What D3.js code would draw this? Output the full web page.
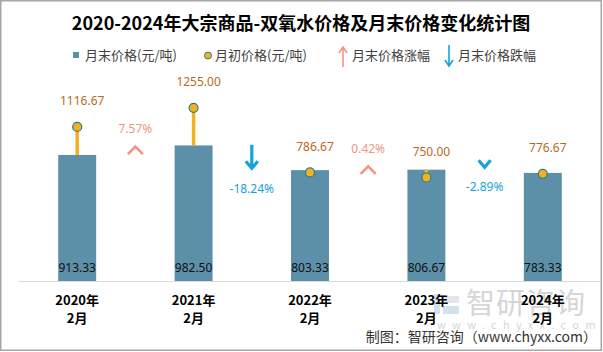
<!DOCTYPE html>
<html>
<head>
<meta charset="utf-8">
<script src="https://cdn.jsdelivr.net/npm/d3@7"></script>
<style>
  body { margin: 0; background: #fff; }
  svg { display: block; font-family: "Noto Sans CJK SC", "Noto Sans", sans-serif; }
</style>
</head>
<body>
<div id="chart"></div>
<script>
// 双氧水 月末/月初价格
var years = ["2020年", "2021年", "2022年", "2023年", "2024年"];
var months = ["2月", "2月", "2月", "2月", "2月"];
var endPrices = [913.33, 982.50, 803.33, 806.67, 783.33];     // 月末价格(元/吨)
var startPrices = [1116.67, 1255.00, 786.67, 750.00, 776.67]; // 月初价格(元/吨)
var changes = [7.57, -18.24, 0.42, -2.89];                     // 月末价格涨跌幅(%)

var W = 603, H = 352;
var upColor = "#F3957F", downColor = "#16A3DB", barColor = "#5B90A8",
    dotColor = "#F2B11D", dotStroke = "#2E7A8A", dotLabel = "#B86A22";

var svg = d3.select("#chart").append("svg")
    .attr("width", W).attr("height", H);

// frame
svg.append("rect")
    .attr("x", 0.75).attr("y", 0.75)
    .attr("width", W - 2.5).attr("height", H - 2.5)
    .attr("fill", "#fff").attr("stroke", "#a6a6a6").attr("stroke-width", 1.5);

var x = d3.scaleBand()
    .domain(years)
    .range([19, 601])
    .paddingInner(0.674)
    .paddingOuter(0.337);

var y = d3.scaleLinear()
    .domain([0, 1800])
    .range([281, 32.6]);

function cx(i) { return x(years[i]) + x.bandwidth() / 2; }

// title
svg.append("text")
    .attr("x", 301).attr("y", 24)
    .attr("dy", "0.35em")
    .attr("text-anchor", "middle")
    .attr("font-size", "18px")
    .attr("font-weight", "bold")
    .attr("fill", "#000")
    .text("2020-2024年大宗商品-双氧水价格及月末价格变化统计图");

// legend
var lg = svg.append("g").attr("font-size", "13px").attr("fill", "#404040");
lg.append("rect").attr("x", 73).attr("y", 52).attr("width", 6).attr("height", 6).attr("fill", barColor);
lg.append("text").attr("x", 85).attr("y", 55).attr("dy", "0.35em").text("月末价格(元/吨)");
lg.append("circle").attr("cx", 208).attr("cy", 55.5).attr("r", 3.5)
    .attr("fill", dotColor).attr("stroke", dotStroke).attr("stroke-width", 1);
lg.append("text").attr("x", 215).attr("y", 55).attr("dy", "0.35em").text("月初价格(元/吨)");
lg.append("path").attr("d", "M343,67V48M339,53L343,47L347,53")
    .attr("fill", "none").attr("stroke", upColor).attr("stroke-width", 1.6);
lg.append("text").attr("x", 352).attr("y", 55).attr("dy", "0.35em").text("月末价格涨幅");
lg.append("path").attr("d", "M449,45V66M445,60L449,66L453,60")
    .attr("fill", "none").attr("stroke", downColor).attr("stroke-width", 1.6);
lg.append("text").attr("x", 458).attr("y", 55).attr("dy", "0.35em").text("月末价格跌幅");

// watermark
var wm = svg.append("g");
wm.append("rect").attr("x", 434).attr("y", 294).attr("width", 6).attr("height", 20).attr("fill", "#d3e0ee");
wm.append("rect").attr("x", 443).attr("y", 296).attr("width", 16).attr("height", 7).attr("fill", "#e3e6ea");
wm.append("rect").attr("x", 443).attr("y", 306).attr("width", 16).attr("height", 8).attr("fill", "#d3e0ee");
wm.append("text").attr("x", 466).attr("y", 304).attr("dy", "0.35em")
    .attr("font-size", "29px").attr("fill", "#d6d6d6").attr("letter-spacing", "1px")
    .text("智研咨询");
wm.append("text").attr("x", 437).attr("y", 325).attr("dy", "0.35em")
    .attr("font-size", "11px").attr("fill", "#d6d6d6").attr("letter-spacing", "6.3px")
    .text("www.chyxx.com");

// bars
svg.selectAll(".bar")
    .data(endPrices)
    .enter().append("rect")
    .attr("class", "bar")
    .attr("x", function (d, i) { return x(years[i]); })
    .attr("y", function (d) { return y(d); })
    .attr("width", x.bandwidth())
    .attr("height", function (d) { return y(0) - y(d); })
    .attr("fill", barColor);

// axis
var axis = svg.append("g")
    .attr("transform", "translate(0," + y(0) + ")")
    .call(d3.axisBottom(x).tickSize(0).tickFormat(""));
axis.select(".domain").attr("stroke", "#d9d9d9").attr("stroke-width", 1)
    .attr("d", "M18,0.5H601");

svg.selectAll(".xlab")
    .data(years)
    .enter().append("text")
    .attr("class", "xlab")
    .attr("text-anchor", "middle")
    .attr("font-size", "13px")
    .attr("font-weight", "bold")
    .attr("fill", "#000")
    .each(function (d, i) {
        var t = d3.select(this);
        t.append("tspan").attr("x", cx(i)).attr("y", 300).attr("dy", "0.35em").text(d);
        t.append("tspan").attr("x", cx(i)).attr("y", 318).attr("dy", "0.35em").text(months[i]);
    });

// bar value labels
svg.selectAll(".barlab")
    .data(endPrices)
    .enter().append("text")
    .attr("class", "barlab")
    .attr("x", function (d, i) { return cx(i); })
    .attr("y", 268)
    .attr("dy", "0.35em")
    .attr("text-anchor", "middle")
    .attr("font-family", "Noto Sans, sans-serif")
    .attr("font-size", "12px")
    .attr("fill", "#111")
    .text(function (d) { return d.toFixed(2); });

// stems from bar top to start-price dot
svg.selectAll(".stem")
    .data(startPrices)
    .enter().append("line")
    .attr("class", "stem")
    .attr("x1", function (d, i) { return cx(i); })
    .attr("x2", function (d, i) { return cx(i); })
    .attr("y1", function (d, i) { return y(endPrices[i]); })
    .attr("y2", function (d) { return y(d); })
    .attr("stroke", dotColor)
    .attr("stroke-width", 3.5);

svg.selectAll(".dot")
    .data(startPrices)
    .enter().append("circle")
    .attr("class", "dot")
    .attr("cx", function (d, i) { return cx(i); })
    .attr("cy", function (d) { return y(d); })
    .attr("r", 4.5)
    .attr("fill", dotColor)
    .attr("stroke", dotStroke)
    .attr("stroke-width", 1.2);

svg.selectAll(".dotlab")
    .data(startPrices)
    .enter().append("text")
    .attr("class", "dotlab")
    .attr("x", function (d, i) { return cx(i) + 5; })
    .attr("y", function (d) { return y(d) - 26; })
    .attr("dy", "0.35em")
    .attr("text-anchor", "middle")
    .attr("font-family", "Noto Sans, sans-serif")
    .attr("font-size", "12px")
    .attr("fill", dotLabel)
    .text(function (d) { return d.toFixed(2); });

// change arrows between bars
svg.selectAll(".chg")
    .data(changes)
    .enter().append("g")
    .attr("class", "chg")
    .each(function (d, i) {
        var g = d3.select(this);
        var mx = (cx(i) + cx(i + 1)) / 2;
        var ym = y((endPrices[i] + endPrices[i + 1]) / 2);
        var len = Math.max(11, Math.abs(d) * 1.4);
        var col = d >= 0 ? upColor : downColor;
        var top, bot, path, ly;
        if (d >= 0) {
            bot = ym + 6; top = bot - len;
            path = "M" + (mx - 7.5) + "," + (top + 9) + "L" + mx + "," + (top + 1.5) + "L" + (mx + 7.5) + "," + (top + 9);
            if (len > 11) path += "M" + mx + "," + (top + 2) + "V" + bot;
            ly = top - 16;
        } else {
            top = ym - 13; bot = top + len;
            path = "M" + (mx - 6) + "," + (bot - 9) + "L" + mx + "," + (bot - 2) + "L" + (mx + 6) + "," + (bot - 9);
            if (len > 11) path += "M" + mx + "," + top + "V" + (bot - 3);
            ly = bot + 18;
        }
        g.append("path").attr("d", path)
            .attr("fill", "none").attr("stroke", col)
            .attr("stroke-width", d >= 0 ? 2.6 : 3.2)
            .attr("stroke-linejoin", "miter");
        g.append("text")
            .attr("x", mx).attr("y", ly).attr("dy", "0.35em")
            .attr("text-anchor", "middle")
            .attr("font-family", "Noto Sans, sans-serif")
            .attr("font-size", "12px")
            .attr("fill", col)
            .text(d.toFixed(2) + "%");
    });

// credit
svg.append("text")
    .attr("x", 597).attr("y", 337).attr("dy", "0.35em")
    .attr("text-anchor", "end")
    .attr("font-size", "14px")
    .attr("fill", "#333")
    .text("制图：智研咨询（www.chyxx.com）");
</script>
</body>
</html>
